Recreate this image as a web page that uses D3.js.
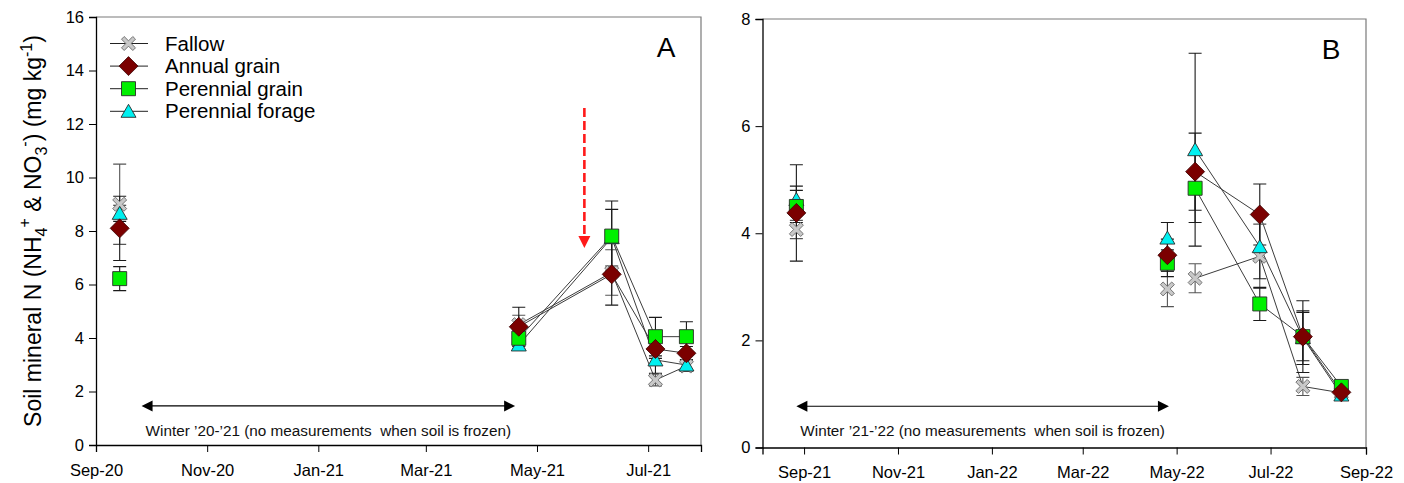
<!DOCTYPE html>
<html>
<head>
<meta charset="utf-8">
<script src="https://cdn.jsdelivr.net/npm/d3@7"></script>
<style>
  body { margin: 0; background: #fff; }
  svg { display: block; font-family: Arial, "Liberation Sans", sans-serif; }
</style>
</head>
<body>
<svg id="chart" width="1404" height="483"></svg>
<script>
// ---- Data ---------------------------------------------------------------
const seriesNames = ["Fallow", "Annual grain", "Perennial grain", "Perennial forage"];

// Panel A: 2020-2021 season
const datesA       = ["2020-09-14", "2021-04-21", "2021-06-11", "2021-07-05", "2021-07-22"];
const fallowA      = [9.00, 4.50, 6.45, 2.43, 2.95];
const fallowErrA   = [1.50, 0.35, 0.85, 0.22, 0.20];
const annualA      = [8.10, 4.42, 6.38, 3.59, 3.43];
const annualErrA   = [1.20, 0.73, 1.15, 0.35, 0.25];
const pGrainA      = [6.22, 3.99, 7.81, 4.05, 4.05];
const pGrainErrA   = [0.45, 0.30, 1.31, 0.72, 0.56];
const pForageA     = [8.66, 3.74, 7.75, 3.18, 2.99];
const pForageErrA  = [0.30, 0.15, 1.06, 0.50, 0.20];

// Panel B: 2021-2022 season
const datesB       = ["2021-08-27", "2022-04-25", "2022-05-13", "2022-06-24", "2022-07-22", "2022-08-16"];
const fallowB      = [4.07, 2.96, 3.16, 3.57, 1.14, 1.02];
const fallowErrB   = [0.17, 0.33, 0.27, 0.60, 0.17, 0.08];
const annualB      = [4.38, 3.59, 5.15, 4.35, 2.07, 1.03];
const annualErrB   = [0.90, 0.30, 0.72, 0.57, 0.67, 0.08];
const pGrainB      = [4.50, 3.44, 4.84, 2.68, 2.07, 1.14];
const pGrainErrB   = [0.30, 0.25, 0.64, 0.31, 0.45, 0.08];
const pForageB     = [4.63, 3.91, 5.56, 3.75, 2.05, 0.98];
const pForageErrB  = [0.25, 0.29, 1.80, 0.60, 0.50, 0.06];

// Axis extents and ticks
const xDomainA = ["2020-09-01", "2021-07-30"];
const xDomainB = ["2021-08-05", "2022-09-01"];
const yTicksA  = [0, 2, 4, 6, 8, 10, 12, 14, 16];
const yTicksB  = [0, 2, 4, 6, 8];

// Winter gap annotations (no sampling while soil is frozen)
const winterA = { from: "2020-09-26", to: "2021-04-19", y: 1.46, text: "Winter \u201920-\u201921 (no measurements  when soil is frozen)" };
const winterB = { from: "2021-08-27", to: "2022-04-26", y: 0.77, text: "Winter \u201921-\u201922 (no measurements  when soil is frozen)" };

// Event marker in panel A
const eventA = { date: "2021-05-27", top: 12.6, tip: 7.36 };

// ---- Drawing ------------------------------------------------------------
const parse = d3.timeParse("%Y-%m-%d");
const svg = d3.select("#chart");
svg.append("rect").attr("width", 1404).attr("height", 483).attr("fill", "#fff");

// draw order: later series on top
const drawOrder = [0, 3, 2, 1];
const markerKinds = ["x", "diamond", "square", "triangle"];

function markerPath(kind) {
  if (kind === "diamond") {
    const r = 9.5;
    return `M0,${-r}L${r},0L0,${r}L${-r},0Z`;
  }
  if (kind === "square") {
    const h = 7;
    return `M${-h},${-h}H${h}V${h}H${-h}Z`;
  }
  if (kind === "triangle") {
    return "M0,-7L7.5,6L-7.5,6Z";
  }
  // X: plus shape rotated 45 degrees
  const L = 8, t = 1.9;
  const pts = [[-t,-L],[t,-L],[t,-t],[L,-t],[L,t],[t,t],[t,L],[-t,L],[-t,t],[-L,t],[-L,-t],[-t,-t]];
  const c = Math.SQRT1_2;
  return "M" + pts.map(([x, y]) => [(x - y) * c, (x + y) * c].map(v => v.toFixed(2)).join(",")).join("L") + "Z";
}

function styleMarker(sel, kind) {
  if (kind === "diamond") sel.attr("fill", "#7b0000").attr("stroke", "#3a0000").attr("stroke-width", 0.8);
  else if (kind === "square") sel.attr("fill", "#00f000").attr("stroke", "#2a2a2a").attr("stroke-width", 0.9);
  else if (kind === "triangle") sel.attr("fill", "#00f0f0").attr("stroke", "#2a2a2a").attr("stroke-width", 0.9);
  else sel.attr("fill", "#c8c8c8").attr("stroke", "#6a6a6a").attr("stroke-width", 0.9);
  return sel;
}

const panels = [
  {
    label: "A", dates: datesA,
    values: [fallowA, annualA, pGrainA, pForageA],
    errors: [fallowErrA, annualErrA, pGrainErrA, pForageErrA],
    xDomain: xDomainA, yTicks: yTicksA, winter: winterA,
    left: 96, right: 701, top: 17, bottom: 445
  },
  {
    label: "B", dates: datesB,
    values: [fallowB, annualB, pGrainB, pForageB],
    errors: [fallowErrB, annualErrB, pGrainErrB, pForageErrB],
    xDomain: xDomainB, yTicks: yTicksB, winter: winterB,
    left: 762.5, right: 1366, top: 19, bottom: 447.5
  }
];

const fmt = d3.timeFormat("%b-%y");

panels.forEach(p => {
  const x = d3.scaleTime().domain(p.xDomain.map(parse)).range([p.left, p.right]);
  const y = d3.scaleLinear().domain([0, d3.max(p.yTicks)]).range([p.bottom, p.top]);
  const g = svg.append("g");

  // frame: top and right edges
  g.append("path")
    .attr("d", `M${p.left},${p.top}H${p.right}V${p.bottom}`)
    .attr("fill", "none").attr("stroke", "#7a7a7a").attr("stroke-width", 1.2);

  // axes
  const xAxis = d3.axisBottom(x).ticks(d3.timeMonth.every(2)).tickFormat(fmt).tickSizeOuter(0).tickSize(7).tickPadding(12);
  const gx = g.append("g").attr("transform", `translate(0,${p.bottom})`).call(xAxis);
  gx.selectAll("text").attr("font-size", 16.5).attr("fill", "#000");
  gx.select(".domain").attr("stroke", "#000").attr("stroke-width", 1.3);
  gx.selectAll(".tick line").attr("stroke", "#000");

  const yAxis = d3.axisLeft(y).tickValues(p.yTicks).tickSizeOuter(0).tickSize(7).tickPadding(5);
  const gy = g.append("g").attr("transform", `translate(${p.left},0)`).call(yAxis);
  gy.selectAll("text").attr("font-size", 16.5).attr("fill", "#000");
  gy.select(".domain").attr("stroke", "#000").attr("stroke-width", 1.3);
  gy.selectAll(".tick line").attr("stroke", "#000");

  // winter annotation: double-headed arrow + caption
  const w = p.winter;
  const wx0 = x(parse(w.from)), wx1 = x(parse(w.to)), wy = y(w.y);
  g.append("line").attr("x1", wx0 + 10).attr("x2", wx1 - 10).attr("y1", wy).attr("y2", wy)
    .attr("stroke", "#000").attr("stroke-width", 1.2);
  g.append("path").attr("d", `M${wx0},${wy}l11,-5.5v11Z`).attr("fill", "#000");
  g.append("path").attr("d", `M${wx1},${wy}l-11,-5.5v11Z`).attr("fill", "#000");
  g.append("text").attr("x", wx0 + 4).attr("y", wy + 30)
    .attr("font-size", 14).attr("fill", "#111")
    .style("white-space", "pre")
    .attr("textLength", wx1 - wx0 - 8).attr("lengthAdjust", "spacingAndGlyphs")
    .text(w.text);

  // series
  const rows = p.dates.map(parse);
  const winterEnd = parse(w.to);

  const line = d3.line().x(d => x(d.date)).y(d => y(d.v));
  drawOrder.forEach(si => {
    const pts = rows.map((d, i) => ({ date: d, v: p.values[si][i] })).filter(d => d.date > winterEnd);
    g.append("path").attr("d", line(pts)).attr("fill", "none")
      .attr("stroke", "#3c3c3c").attr("stroke-width", 1);
  });

  // error bars
  drawOrder.forEach(si => {
    rows.forEach((d, i) => {
      const cx = x(d), v = p.values[si][i], e = p.errors[si][i];
      const y0 = y(v - e), y1 = y(v + e);
      g.append("path")
        .attr("d", `M${cx},${y0}V${y1}M${cx - 6.5},${y0}H${cx + 6.5}M${cx - 6.5},${y1}H${cx + 6.5}`)
        .attr("fill", "none").attr("stroke", si === 0 ? "#555" : "#1a1a1a").attr("stroke-width", 1.1);
    });
  });

  // markers
  drawOrder.forEach(si => {
    const kind = markerKinds[si];
    rows.forEach((d, i) => {
      styleMarker(g.append("path").attr("d", markerPath(kind))
        .attr("transform", `translate(${x(d)},${y(p.values[si][i])})`), kind);
    });
  });

  // panel letter
  g.append("text").attr("x", p.right - 35).attr("y", p.top + 40)
    .attr("text-anchor", "middle").attr("font-size", 28).attr("fill", "#000").text(p.label);

  // event arrow (panel A only)
  if (p.label === "A") {
    const ex = x(parse(eventA.date));
    const yt = y(eventA.top), yp = y(eventA.tip);
    g.append("line").attr("x1", ex).attr("x2", ex).attr("y1", yt).attr("y2", yp - 10)
      .attr("stroke", "#ff1a1a").attr("stroke-width", 2.6).attr("stroke-dasharray", "9,4");
    g.append("path").attr("d", `M${ex},${yp}l-6,-12h12Z`).attr("fill", "#ff1a1a");
  }
});

// legend (panel A)
const legend = svg.append("g");
seriesNames.forEach((name, si) => {
  const ly = 43.5 + si * 22.6;
  legend.append("line").attr("x1", 110).attr("x2", 148).attr("y1", ly).attr("y2", ly)
    .attr("stroke", "#222").attr("stroke-width", 1);
  const kind = markerKinds[si];
  styleMarker(legend.append("path").attr("d", markerPath(kind))
    .attr("transform", `translate(128.5,${ly})`), kind);
  legend.append("text").attr("x", 165).attr("y", ly + 7)
    .attr("font-size", 20.5).attr("fill", "#000").text(name);
});

// y-axis title
const title = svg.append("text")
  .attr("transform", "translate(41,231) rotate(-90)")
  .attr("text-anchor", "middle").attr("font-size", 23).attr("fill", "#000");
title.append("tspan").text("Soil mineral N (NH");
title.append("tspan").attr("font-size", 16).attr("dy", 6).text("4");
title.append("tspan").attr("font-size", 16).attr("dy", -17).text("+");
title.append("tspan").attr("dy", 11).text(" & NO");
title.append("tspan").attr("font-size", 16).attr("dy", 6).text("3");
title.append("tspan").attr("font-size", 16).attr("dy", -17).text("-");
title.append("tspan").attr("dy", 11).text(") (mg kg");
title.append("tspan").attr("font-size", 16).attr("dy", -9).text("-1");
title.append("tspan").attr("dy", 9).text(")");
</script>
</body>
</html>
